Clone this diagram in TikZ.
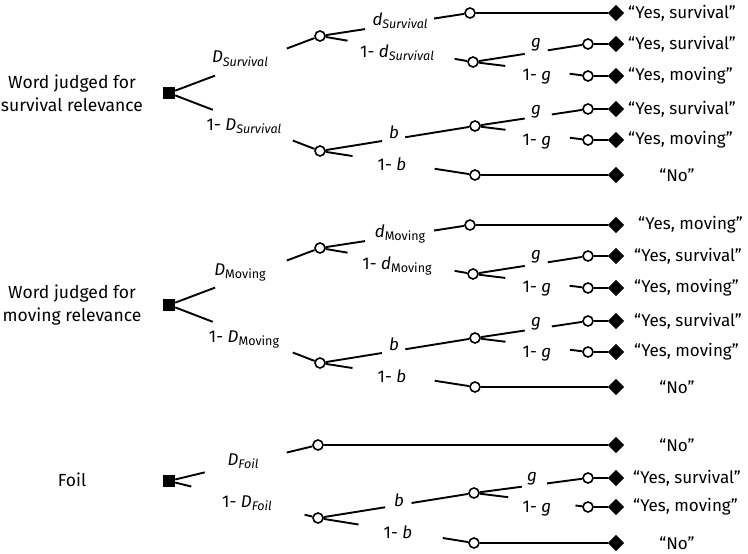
\documentclass[tikz,border=0pt]{standalone}
\usepackage{fontspec}
\setmainfont{Fira Sans}
\usetikzlibrary{shapes.geometric,calc}

\tikzset{
  edge/.style={line width=1.9pt},
  rootbox/.style={fill=black, minimum size=12pt, inner sep=0pt, draw=none},
  chance/.style={circle, draw, line width=1.6pt, fill=white, minimum size=10pt, inner sep=0pt},
  leaf/.style={diamond, fill=black, minimum width=16.5pt, minimum height=16.5pt, inner sep=0pt},
  lab/.style={font=\fontsize{17}{18}\selectfont, inner sep=0pt, anchor=base},
  txt/.style={font=\fontsize{17.5}{23}\selectfont, align=center, inner sep=0pt},
  outw/.style={font=\fontsize{17}{18}\selectfont, inner sep=0pt, anchor=west},
  outc/.style={font=\fontsize{17}{18}\selectfont, inner sep=0pt},
}

\newcommand\sbx[1]{\raisebox{-0.35ex}{\fontsize{12.5}{12}\selectfont #1}}
\newcommand\gapedge[4]{%
  \draw[edge] (#1) -- ($(#1)!#3!(#2)$);
  \draw[edge] ($(#1)!#4!(#2)$) -- (#2);}

% #1 prefix, #2 y shift, #3 root text, #4 subscript, #5 first leaf text, #6 x of first leaf text, #7 x of other leaf texts
\newcommand\wordblock[7]{%
\begin{scope}[shift={(0,#2)}]
  \node[rootbox] (#1R) at (169,93) {};
  \node[txt] (#1T) at (72,93) {#3};
  \node[chance] (#1A1) at (320,36) {};
  \node[chance] (#1A2) at (320,151) {};
  \node[chance] (#1B1) at (470,13) {};
  \node[chance] (#1B2) at (473,62) {};
  \node[chance] (#1B3) at (475,126) {};
  \node[chance] (#1B4) at (475,175) {};
  \node[chance] (#1C1) at (588,44) {};
  \node[chance] (#1C2) at (588,76) {};
  \node[chance] (#1C3) at (588,109) {};
  \node[chance] (#1C4) at (588,140) {};
  \node[leaf] (#1L1) at (616,13) {};
  \node[leaf] (#1L2) at (616,44) {};
  \node[leaf] (#1L3) at (616,76) {};
  \node[leaf] (#1L4) at (616,109) {};
  \node[leaf] (#1L5) at (616,140) {};
  \node[leaf] (#1L6) at (616,175) {};
  % branch labels
  \node[lab] (#1lD) at (240,63) {\textit{D}\sbx{#4}};
  \node[lab] (#1lnD) at (244,130) {1- \textit{D}\sbx{#4}};
  \node[lab] (#1ld) at (400,25) {\textit{d}\sbx{#4}};
  \node[lab] (#1lnd) at (397,57) {1- \textit{d}\sbx{#4}};
  \node[lab] (#1lb) at (394,138) {\textit{b}};
  \node[lab] (#1lnb) at (392,170) {1- \textit{b}};
  \node[lab] (#1lg) at (536,47) {\textit{g}};
  \node[lab] (#1lng) at (537,80) {1- \textit{g}};
  \node[lab] (#1lgg) at (536,114) {\textit{g}};
  \node[lab] (#1lngg) at (537,145) {1- \textit{g}};
  % connectors
  \gapedge{#1R}{#1A1}{0.305}{0.78}
  \gapedge{#1R}{#1A2}{0.29}{0.82}
  \gapedge{#1A1}{#1B1}{0.30}{0.76}
  \gapedge{#1A1}{#1B2}{0.18}{0.88}
  \gapedge{#1A2}{#1B3}{0.40}{0.55}
  \gapedge{#1A2}{#1B4}{0.21}{0.74}
  \gapedge{#1B2}{#1C1}{0.45}{0.65}
  \gapedge{#1B2}{#1C2}{0.28}{0.84}
  \gapedge{#1B3}{#1C3}{0.44}{0.68}
  \gapedge{#1B3}{#1C4}{0.27}{0.84}
  \draw[edge] (#1B1) -- (#1L1);
  \draw[edge] (#1C1) -- (#1L2);
  \draw[edge] (#1C2) -- (#1L3);
  \draw[edge] (#1C3) -- (#1L4);
  \draw[edge] (#1C4) -- (#1L5);
  \draw[edge] (#1B4) -- (#1L6);
  % outcomes
  \node[outw] (#1o1) at (#6,13) {#5};
  \node[outw] (#1o2) at (#7,44) {“Yes, survival”};
  \node[outw] (#1o3) at (#7,76) {“Yes, moving”};
  \node[outw] (#1o4) at (#7,109) {“Yes, survival”};
  \node[outw] (#1o5) at (#7,140) {“Yes, moving”};
  \node[outc] (#1o6) at (677,175) {“No”};
\end{scope}}

\begin{document}
\begin{tikzpicture}[x=1pt,y=-1pt]
\useasboundingbox (0,0) rectangle (748,554);

\wordblock{s}{0}{Word judged for\\survival relevance}{\textit{Survival}}{“Yes, survival”}{628}{628}
\wordblock{m}{212}{Word judged for\\moving relevance}{Moving}{“Yes, moving”}{638}{634}

% Foil block
\node[rootbox] (fR) at (169,481) {};
\node[txt] (fT) at (72,480) {Foil};
\node[chance] (fA1) at (318,445) {};
\node[chance] (fA2) at (318,518) {};
\node[chance] (fB3) at (474,493) {};
\node[chance] (fB4) at (474,543) {};
\node[chance] (fC3) at (588,478) {};
\node[chance] (fC4) at (588,507) {};
\node[leaf] (fL1) at (616,445) {};
\node[leaf] (fL2) at (616,478) {};
\node[leaf] (fL3) at (616,507) {};
\node[leaf] (fL4) at (616,543) {};
\node[lab] (flD) at (243,465) {\textit{D}\sbx{\textit{Foil}}};
\node[lab] (flnD) at (247,507) {1- \textit{D}\sbx{\textit{Foil}}};
\node[lab] (flb) at (399,506) {\textit{b}};
\node[lab] (flnb) at (398,538) {1- \textit{b}};
\node[lab] (flg) at (532,481) {\textit{g}};
\node[lab] (flng) at (537,512) {1- \textit{g}};
\gapedge{fR}{fA1}{0.24}{0.79}
\gapedge{fR}{fA2}{0.15}{0.91}
\gapedge{fA2}{fB3}{0.43}{0.60}
\gapedge{fA2}{fB4}{0.26}{0.80}
\gapedge{fB3}{fC3}{0.42}{0.64}
\gapedge{fB3}{fC4}{0.30}{0.89}
\draw[edge] (fA1) -- (fL1);
\draw[edge] (fC3) -- (fL2);
\draw[edge] (fC4) -- (fL3);
\draw[edge] (fB4) -- (fL4);
\node[outc] (fo1) at (677,445) {“No”};
\node[outw] (fo2) at (633,478) {“Yes, survival”};
\node[outw] (fo3) at (633,507) {“Yes, moving”};
\node[outc] (fo4) at (677,543) {“No”};
\end{tikzpicture}
\end{document}
